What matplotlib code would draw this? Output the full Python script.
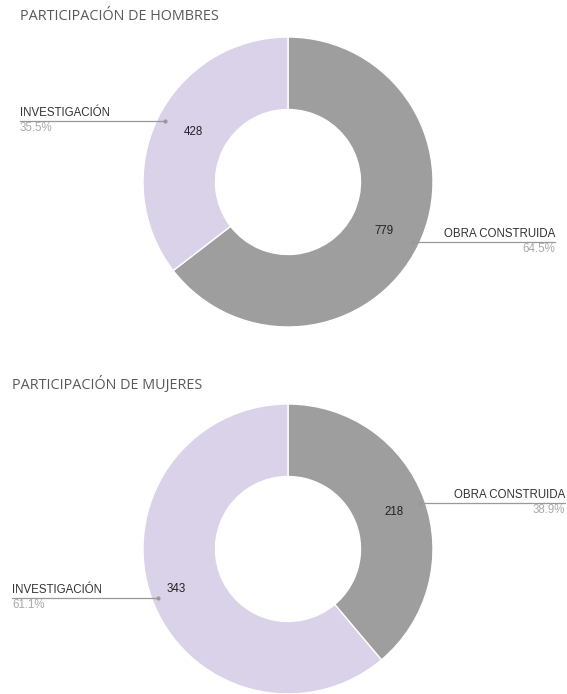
import matplotlib.pyplot as plt
from matplotlib.lines import Line2D

W, H = 567, 694

categories = ["OBRA CONSTRUIDA", "INVESTIGACIÓN"]
hombres = [779, 428]
mujeres = [218, 343]
titles = ["PARTICIPACIÓN DE HOMBRES", "PARTICIPACIÓN DE MUJERES"]
colors = ["#9e9e9e", "#d9d2e9"]
FS = 8.3

fig = plt.figure(figsize=(W / 100, H / 100), dpi=100)


def fx(x):
	return x / W


def fy(y):
	return 1 - y / H


def donut(values, cx, cy, r):
	ax = fig.add_axes([fx(cx - r), fy(cy + r), 2 * r / W, 2 * r / H])
	ax.pie(values, colors=colors, startangle=90, counterclock=False,
		wedgeprops=dict(width=0.5, edgecolor="white", linewidth=1))
	ax.set_xlim(-1, 1)
	ax.set_ylim(-1, 1)
	ax.set_aspect("auto")
	ax.axis("off")


def callout(name, pct, x0, x1, y, dot_x, align):
	line = Line2D([fx(x0), fx(x1)], [fy(y), fy(y)], transform=fig.transFigure,
		color="#999999", lw=0.9)
	fig.add_artist(line)
	fig.add_artist(Line2D([fx(dot_x)], [fy(y)], transform=fig.transFigure,
		marker="o", ms=2, color="#999999"))
	tx = x0 if align == "left" else x1
	fig.text(fx(tx), fy(y - 2), name, ha=align, va="bottom", fontsize=FS,
		family="Liberation Sans", color="#333333")
	fig.text(fx(tx), fy(y + 1), pct, ha=align, va="top", fontsize=FS,
		family="Liberation Sans", color="#aaaaaa")


def pct(v, vals):
	return "{0:.1f}%".format(100 * v / sum(vals))


# hombres
fig.text(fx(20), fy(17), titles[0], ha="left", va="center", fontsize=10.4,
	family="Open Sans", color="#595959")
donut(hombres, 288, 182, 145)
callout(categories[1], pct(hombres[1], hombres), 20, 165, 121, 165, "left")
callout(categories[0], pct(hombres[0], hombres), 413, 555, 242, 413, "right")
fig.text(fx(193), fy(132), str(hombres[1]), ha="center", va="center",
	fontsize=FS, family="Liberation Sans", color="#222222")
fig.text(fx(384), fy(231), str(hombres[0]), ha="center", va="center",
	fontsize=FS, family="Liberation Sans", color="#222222")

# mujeres
fig.text(fx(12), fy(385), titles[1], ha="left", va="center", fontsize=10.4,
	family="Open Sans", color="#595959")
donut(mujeres, 288, 549, 145)
callout(categories[0], pct(mujeres[0], mujeres), 420, 565, 503, 420, "right")
callout(categories[1], pct(mujeres[1], mujeres), 12, 158, 598, 158, "left")
fig.text(fx(394), fy(512), str(mujeres[0]), ha="center", va="center",
	fontsize=FS, family="Liberation Sans", color="#222222")
fig.text(fx(176), fy(589), str(mujeres[1]), ha="center", va="center",
	fontsize=FS, family="Liberation Sans", color="#222222")

fig.savefig("out.png", dpi=100)
